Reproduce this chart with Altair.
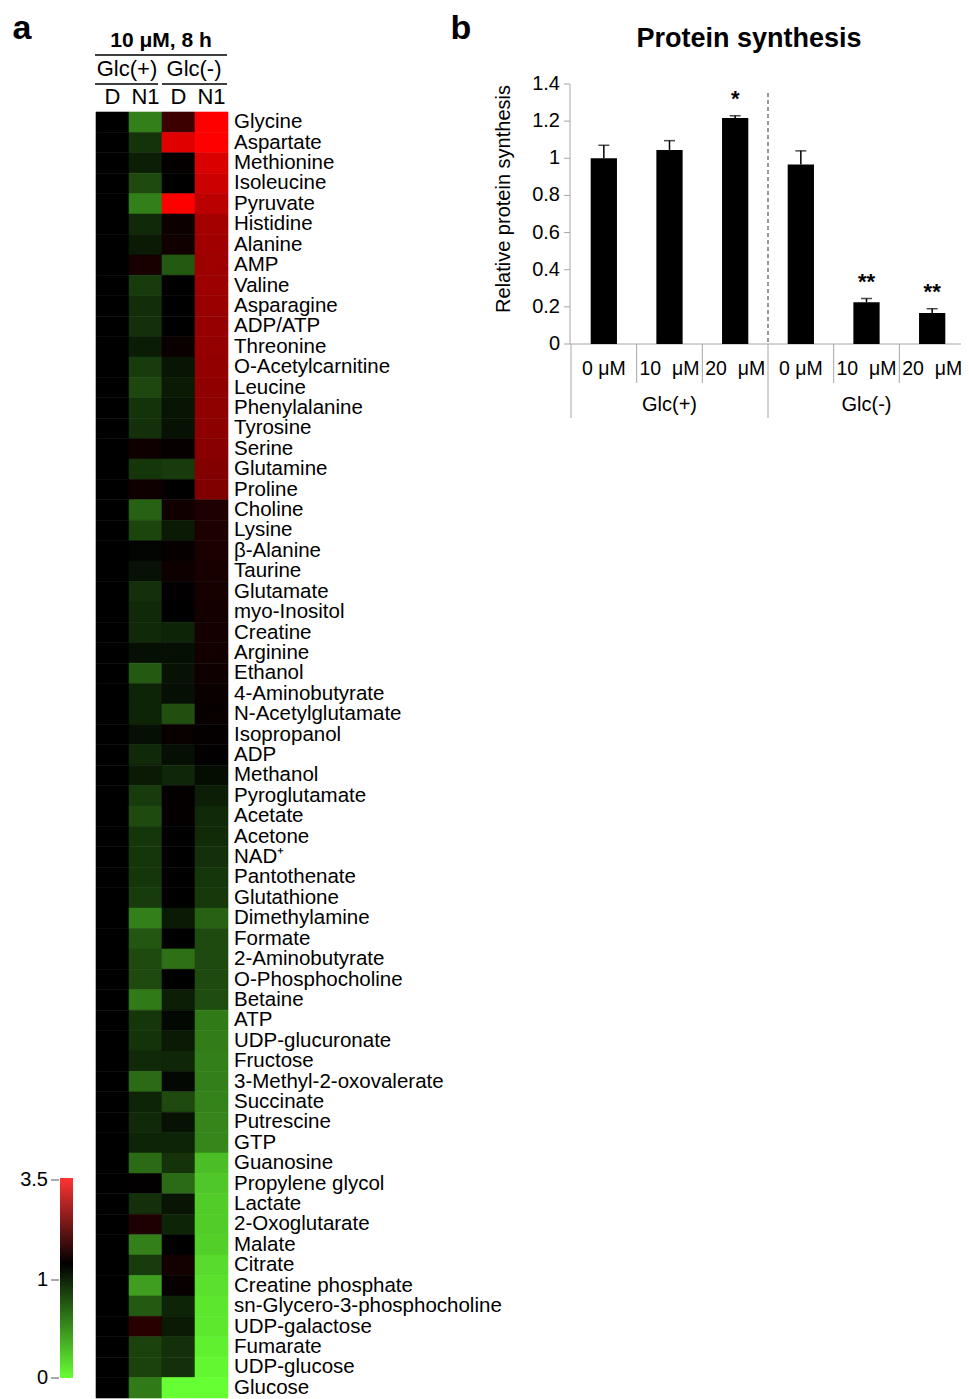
import altair as alt
import pandas as pd

FONT = "Liberation Sans"

# ---------------- Panel a: heatmap data ----------------
metabolites = [
    "Glycine", "Aspartate", "Methionine", "Isoleucine", "Pyruvate", "Histidine",
    "Alanine", "AMP", "Valine", "Asparagine", "ADP/ATP", "Threonine",
    "O-Acetylcarnitine", "Leucine", "Phenylalanine", "Tyrosine", "Serine",
    "Glutamine", "Proline", "Choline", "Lysine", "β-Alanine", "Taurine",
    "Glutamate", "myo-Inositol", "Creatine", "Arginine", "Ethanol",
    "4-Aminobutyrate", "N-Acetylglutamate", "Isopropanol", "ADP", "Methanol",
    "Pyroglutamate", "Acetate", "Acetone", "NAD⁺", "Pantothenate",
    "Glutathione", "Dimethylamine", "Formate", "2-Aminobutyrate",
    "O-Phosphocholine", "Betaine", "ATP", "UDP-glucuronate", "Fructose",
    "3-Methyl-2-oxovalerate", "Succinate", "Putrescine", "GTP", "Guanosine",
    "Propylene glycol", "Lactate", "2-Oxoglutarate", "Malate", "Citrate",
    "Creatine phosphate", "sn-Glycero-3-phosphocholine", "UDP-galactose",
    "Fumarate", "UDP-glucose", "Glucose",
]

columns = ["Glc(+) D", "Glc(+) N1", "Glc(-) D", "Glc(-) N1"]
column_labels = ["D", "N1", "D", "N1"]

glc_pos_D = [
    1.00, 1.00, 1.00, 1.00, 1.00, 1.00, 1.00, 1.00, 1.00, 1.00,
    1.00, 1.00, 1.00, 1.00, 1.00, 1.00, 1.00, 1.00, 1.00, 1.00,
    1.00, 1.00, 1.00, 1.00, 1.00, 1.00, 1.00, 1.00, 1.00, 1.00,
    1.00, 1.00, 1.00, 1.00, 1.00, 1.00, 1.00, 1.00, 1.00, 1.00,
    1.00, 1.00, 1.00, 1.00, 1.00, 1.00, 1.00, 1.00, 1.00, 1.00,
    1.00, 1.00, 1.00, 1.00, 1.00, 1.00, 1.00, 1.00, 1.00, 1.00,
    1.00, 1.00, 1.00,
]
glc_pos_N1 = [
    0.50, 0.80, 0.88, 0.71, 0.50, 0.84, 0.90, 1.24, 0.77, 0.82,
    0.81, 0.89, 0.77, 0.72, 0.80, 0.81, 1.15, 0.79, 1.14, 0.62,
    0.73, 0.98, 0.93, 0.81, 0.84, 0.84, 0.94, 0.65, 0.86, 0.86,
    0.94, 0.84, 0.90, 0.77, 0.71, 0.79, 0.79, 0.79, 0.77, 0.50,
    0.66, 0.71, 0.71, 0.52, 0.79, 0.80, 0.84, 0.58, 0.86, 0.84,
    0.86, 0.58, 1.02, 0.81, 1.30, 0.50, 0.77, 0.38, 0.65, 1.40,
    0.74, 0.74, 0.52,
]
glc_neg_D = [
    1.60, 3.20, 1.05, 1.00, 3.50, 1.12, 1.16, 0.65, 1.00, 1.00,
    1.01, 1.10, 0.92, 0.90, 0.92, 0.93, 1.07, 0.77, 1.00, 1.17,
    0.90, 1.07, 1.14, 1.02, 1.00, 0.86, 0.94, 0.93, 0.94, 0.69,
    1.08, 0.94, 0.85, 1.05, 1.05, 1.00, 1.00, 1.00, 1.00, 0.90,
    1.00, 0.56, 1.00, 0.88, 0.97, 0.90, 0.85, 0.97, 0.71, 0.93,
    0.86, 0.80, 0.58, 0.92, 0.86, 1.00, 1.19, 1.06, 0.86, 0.90,
    0.81, 0.81, 0.00,
]
glc_neg_N1 = [
    3.50, 3.50, 3.15, 3.00, 2.82, 2.62, 2.57, 2.55, 2.53, 2.50,
    2.48, 2.46, 2.44, 2.42, 2.40, 2.37, 2.33, 2.28, 2.25, 1.30,
    1.28, 1.26, 1.24, 1.22, 1.21, 1.20, 1.18, 1.14, 1.11, 1.08,
    1.05, 1.02, 0.95, 0.88, 0.84, 0.83, 0.81, 0.79, 0.78, 0.62,
    0.71, 0.71, 0.71, 0.70, 0.52, 0.51, 0.50, 0.50, 0.49, 0.48,
    0.47, 0.26, 0.22, 0.20, 0.20, 0.19, 0.14, 0.12, 0.10, 0.09,
    0.06, 0.03, 0.00,
]

legend_ticks = [0, 1, 3.5]
legend_tick_labels = ["0", "1", "3.5"]

# ---------------- Panel b: bar data ----------------
bar_categories = ["Glc(+) 0", "Glc(+) 10", "Glc(+) 20", "Glc(-) 0", "Glc(-) 10", "Glc(-) 20"]
bar_labels = ["0 μM", "10\u00a0\u00a0μM", "20\u00a0\u00a0μM", "0 μM", "10\u00a0\u00a0μM", "20\u00a0\u00a0μM"]
bar_values = [1.00, 1.045, 1.217, 0.967, 0.225, 0.167]
bar_errors = [0.070, 0.050, 0.012, 0.073, 0.020, 0.023]
bar_sig = ["", "", "*", "", "**", "**"]
groups = ["Glc(+)", "Glc(-)"]
y_ticks = [0, 0.2, 0.4, 0.6, 0.8, 1.0, 1.2, 1.4]
y_tick_labels = ["0", "0.2", "0.4", "0.6", "0.8", "1", "1.2", "1.4"]
short_bounds = [1, 2, 4, 5]
long_bounds = [0, 3, 6]

# ---------------- tables ----------------
heat_rows = []
for col, vals in zip(columns, [glc_pos_D, glc_pos_N1, glc_neg_D, glc_neg_N1]):
    for m, v in zip(metabolites, vals):
        heat_rows.append({"column": col, "metabolite": m, "value": v})
heat_df = pd.DataFrame(heat_rows)

bar_df = pd.DataFrame({
    "cat": bar_categories, "label": bar_labels, "value": bar_values,
    "err": bar_errors, "sig": bar_sig,
})
bar_df["top"] = bar_df["value"] + bar_df["err"]

dummy = pd.DataFrame({"k": [0]})

# ---------------- scales (pixel coordinates of the drawing area) ----------------
heat_x = alt.Scale(domain=columns, range=[88, 220], paddingInner=0, paddingOuter=0)
heat_y = alt.Scale(domain=metabolites, range=[104, 1390], paddingInner=0, paddingOuter=0)
heat_color = alt.Scale(domain=[0, 1, 3.5], range=["#66ff33", "#000000", "#ff0000"],
                       interpolate="rgb", clamp=True)
legend_y = alt.Scale(domain=[0, 1, 3.5], range=[1370, 1272, 1172])

X0, X1 = 563, 957
bar_x = alt.Scale(domain=bar_categories, range=[X0, X1], paddingInner=0.6, paddingOuter=0.3)
bar_y = alt.Scale(domain=[0, 1.4], range=[336, 76], nice=False, zero=True)
bound_x = alt.Scale(domain=[0, 6], range=[X0, X1])
group_x = alt.Scale(domain=groups, range=[X0, X1], paddingInner=0, paddingOuter=0)

AXIS_GRAY = "#a6a6a6"


def txt(s, x, y, size, bold=False, align="center", baseline="middle", angle=None):
    kw = dict(text=s, fontSize=size, font=FONT, align=align, baseline=baseline, color="black")
    if bold:
        kw["fontWeight"] = "bold"
    if angle is not None:
        kw["angle"] = angle
    return alt.Chart(dummy).mark_text(**kw).encode(x=alt.value(x), y=alt.value(y))


def hline(x1, x2, y, color="black", width=1.5, dash=None):
    kw = dict(color=color, strokeWidth=width)
    if dash:
        kw["strokeDash"] = dash
    return alt.Chart(dummy).mark_rule(**kw).encode(x=alt.value(x1), x2=alt.value(x2), y=alt.value(y))


def vline(x, y1, y2, color="black", width=1.5, dash=None):
    kw = dict(color=color, strokeWidth=width)
    if dash:
        kw["strokeDash"] = dash
    return alt.Chart(dummy).mark_rule(**kw).encode(x=alt.value(x), y=alt.value(y1), y2=alt.value(y2))


layers = []

# heatmap
layers.append(
    alt.Chart(heat_df).mark_rect(strokeWidth=0.6).encode(
        x=alt.X("column:N", scale=heat_x, axis=None),
        y=alt.Y("metabolite:N", scale=heat_y, axis=None),
        color=alt.Color("value:Q", scale=heat_color, legend=None),
        stroke=alt.Stroke("value:Q", scale=heat_color, legend=None),
    )
)
# row labels
layers.append(
    alt.Chart(pd.DataFrame({"metabolite": metabolites})).mark_text(
        align="left", baseline="middle", fontSize=20.5, font=FONT, color="black"
    ).encode(
        y=alt.Y("metabolite:N", scale=heat_y, axis=None),
        x=alt.value(226),
        text="metabolite:N",
    )
)
# column headers
layers.append(
    alt.Chart(pd.DataFrame({"column": columns, "label": column_labels})).mark_text(
        fontSize=22, font=FONT, baseline="middle", color="black"
    ).encode(
        x=alt.X("column:N", scale=heat_x, axis=None),
        y=alt.value(89),
        text="label:N",
    )
)
layers.append(txt("10 μM, 8 h", 153, 33, 21, bold=True))
layers.append(hline(87, 219, 47))
layers.append(txt("Glc(+)", 119, 61, 22))
layers.append(txt("Glc(-)", 186, 61, 22))
layers.append(hline(87, 150, 76))
layers.append(hline(154, 219, 76))

# colour legend
grad = alt.Gradient(
    gradient="linear",
    stops=[alt.GradientStop(color="#66ff33", offset=0),
           alt.GradientStop(color="#000000", offset=0.57),
           alt.GradientStop(color="#ff3333", offset=1)],
    x1=0, x2=0, y1=1, y2=0,
)
layers.append(
    alt.Chart(dummy).mark_rect(color=grad).encode(
        x=alt.value(52), x2=alt.value(65), y=alt.value(1170), y2=alt.value(1370)
    )
)
leg_df = pd.DataFrame({"v": legend_ticks, "lab": legend_tick_labels})
layers.append(
    alt.Chart(leg_df).mark_rule(color="#555555", strokeWidth=1).encode(
        y=alt.Y("v:Q", scale=legend_y, axis=None), x=alt.value(43), x2=alt.value(51)
    )
)
layers.append(
    alt.Chart(leg_df).mark_text(align="right", baseline="middle", fontSize=20, font=FONT,
                                color="black").encode(
        y=alt.Y("v:Q", scale=legend_y, axis=None), x=alt.value(40), text="lab:N"
    )
)

# panel letters
layers.append(txt("a", 14, 31, 34, bold=True, baseline="alphabetic"))
layers.append(txt("b", 453, 31, 34, bold=True, baseline="alphabetic"))

# ---------------- Panel b ----------------
layers.append(txt("Protein synthesis", 741, 39, 27, bold=True, baseline="alphabetic"))
layers.append(txt("Relative protein synthesis", 496, 191, 20, angle=270))

# axes
layers.append(vline(562, 76, 336, color=AXIS_GRAY, width=1))
layers.append(hline(562, 953, 336, color=AXIS_GRAY, width=1))
yt_df = pd.DataFrame({"v": y_ticks, "lab": y_tick_labels})
layers.append(
    alt.Chart(yt_df).mark_rule(color=AXIS_GRAY, strokeWidth=1).encode(
        y=alt.Y("v:Q", scale=bar_y, axis=None), x=alt.value(556), x2=alt.value(562)
    )
)
layers.append(
    alt.Chart(yt_df).mark_text(align="right", baseline="middle", fontSize=20, font=FONT,
                               color="black").encode(
        y=alt.Y("v:Q", scale=bar_y, axis=None), x=alt.value(552), text="lab:N"
    )
)
# category separators
layers.append(
    alt.Chart(pd.DataFrame({"b": short_bounds})).mark_rule(color=AXIS_GRAY, strokeWidth=1).encode(
        x=alt.X("b:Q", scale=bound_x, axis=None), y=alt.value(336), y2=alt.value(375)
    )
)
layers.append(
    alt.Chart(pd.DataFrame({"b": long_bounds})).mark_rule(color=AXIS_GRAY, strokeWidth=1).encode(
        x=alt.X("b:Q", scale=bound_x, axis=None), y=alt.value(336), y2=alt.value(410)
    )
)
# dashed divider between glucose conditions
layers.append(
    alt.Chart(pd.DataFrame({"b": [3]})).mark_rule(color="#555555", strokeWidth=1.2,
                                                   strokeDash=[4, 3]).encode(
        x=alt.X("b:Q", scale=bound_x, axis=None), y=alt.value(85), y2=alt.value(336)
    )
)
# bars
layers.append(
    alt.Chart(bar_df).mark_bar(color="black").encode(
        x=alt.X("cat:N", scale=bar_x, axis=None),
        y=alt.Y("value:Q", scale=bar_y, axis=None),
    )
)
layers.append(
    alt.Chart(bar_df).mark_rule(color="black", strokeWidth=1.5).encode(
        x=alt.X("cat:N", scale=bar_x, axis=None),
        y=alt.Y("value:Q", scale=bar_y, axis=None),
        y2="top:Q",
    )
)
layers.append(
    alt.Chart(bar_df).mark_tick(color="black", thickness=1.5, size=11, orient="horizontal").encode(
        x=alt.X("cat:N", scale=bar_x, axis=None),
        y=alt.Y("top:Q", scale=bar_y, axis=None),
    )
)
layers.append(
    alt.Chart(bar_df).mark_text(fontSize=22, font=FONT, fontWeight="bold", baseline="alphabetic",
                                dy=-10, color="black").encode(
        x=alt.X("cat:N", scale=bar_x, axis=None),
        y=alt.Y("top:Q", scale=bar_y, axis=None),
        text="sig:N",
    )
)
layers.append(
    alt.Chart(bar_df).mark_text(fontSize=19.5, font=FONT, baseline="middle", color="black").encode(
        x=alt.X("cat:N", scale=bar_x, axis=None),
        y=alt.value(361),
        text="label:N",
    )
)
layers.append(
    alt.Chart(pd.DataFrame({"g": groups})).mark_text(fontSize=20, font=FONT, baseline="middle",
                                                     color="black").encode(
        x=alt.X("g:N", scale=group_x, axis=None),
        y=alt.value(397),
        text="g:N",
    )
)

chart = alt.layer(*layers).resolve_scale(
    x="independent", y="independent", color="independent", stroke="independent"
).properties(
    width=953, height=1391, padding=0, background="white",
    autosize=alt.AutoSizeParams(type="none"),
).configure_view(stroke=None)

chart.save("out.html", embed_options={"renderer": "svg", "actions": False})
